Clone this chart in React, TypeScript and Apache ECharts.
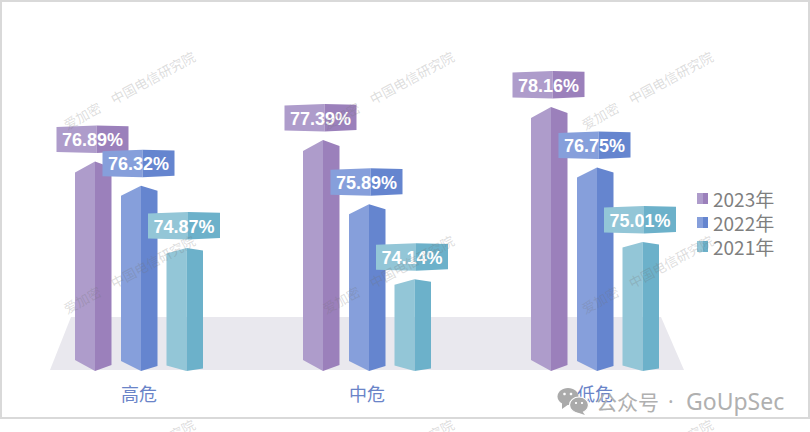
import React, { useEffect, useRef } from "react";
import * as echarts from "echarts";

const categories = ["高危", "中危", "低危"];
const years = ["2023年", "2022年", "2021年"];
const values2023 = [76.89, 77.39, 78.16];
const values2022 = [76.32, 75.89, 76.75];
const values2021 = [74.87, 74.14, 75.01];

const seriesValues = [values2023, values2022, values2021];
const lightColors = ["#ae9ccb", "#869fdb", "#93c6d7"];
const darkColors = ["#9b80bb", "#6585cf", "#6cb1ca"];
const barOffsets = [-44, 2, 47.5];
const leftRise = [11, 10, 5.5];
const rightRise = [6, 5, 2.5];

const WM = "爱加密\u3000中国电信研究院";
const wmX = [129, 388, 647];
const wmY = [90, 274, 458];

const makeRender = (s: number) => (params: any, api: any) => {
  const idx = api.value(0);
  const v = api.value(1);
  const top = api.coord([idx, v]);
  const base = api.coord([idx, 72]);
  const mid = top[0] + barOffsets[s];
  const L = mid - 20;
  const R = mid + 16.5;
  const y = top[1];
  const b = base[1];
  const ml = mid + 1.5;
  const bl = ml - 40;
  const br = ml + 32;
  const bt = y - 36;
  const bb = y - 9;
  return {
    type: "group",
    children: [
      { type: "polygon", shape: { points: [[L, y + leftRise[s]], [mid, y], [mid, b], [L, b - leftRise[s]]] }, style: { fill: lightColors[s] } },
      { type: "polygon", shape: { points: [[mid, y], [R, y + rightRise[s]], [R, b - rightRise[s]], [mid, b]] }, style: { fill: darkColors[s] } },
      { type: "polygon", shape: { points: [[bl, bt + 1.5], [ml, bt], [ml, bb + 0.5], [bl, bb - 0.5]] }, style: { fill: lightColors[s] } },
      { type: "polygon", shape: { points: [[ml, bt], [br, bt + 0.7], [br, bb - 1], [ml, bb + 0.5]] }, style: { fill: darkColors[s] } },
      {
        type: "text",
        style: {
          x: (bl + br) / 2,
          y: (bt + bb) / 2 + 1,
          text: v.toFixed(2) + "%",
          fill: "#ffffff",
          font: "bold 18px 'Liberation Sans', Arial, sans-serif",
          align: "center",
          verticalAlign: "middle",
        },
      },
    ],
  };
};

export default function App() {
  const ref = useRef<HTMLDivElement>(null);
  useEffect(() => {
    document.body.style.margin = "0";
    const chart = echarts.init(ref.current!, undefined, { renderer: "svg" });
    const watermarks: any[] = [];
    wmY.forEach((y) =>
      wmX.forEach((x) =>
        watermarks.push({
          type: "text",
          x,
          y,
          rotation: 0.497,
          z: 50,
          silent: true,
          style: {
            text: WM,
            fill: "rgba(115,115,115,0.25)",
            font: "13.4px 'Noto Sans CJK SC', sans-serif",
            align: "center",
            verticalAlign: "middle",
          },
        })
      )
    );
    const gray = "#aaaaaa";
    chart.setOption({
      animation: false,
      backgroundColor: "#ffffff",
      legend: {
        orient: "vertical",
        left: 692,
        top: 184,
        itemWidth: 11,
        itemHeight: 11,
        itemGap: 5,
        icon: "rect",
        selectedMode: false,
        data: years,
        textStyle: { color: "#7f7f7f", fontSize: 19, lineHeight: 19, fontFamily: "'Noto Sans CJK SC', sans-serif" },
      },
      grid: { left: 25, width: 684, top: 71, height: 300 },
      xAxis: {
        type: "category",
        data: categories,
        axisLine: { show: false },
        axisTick: { show: false },
        axisLabel: { color: "#6a84c8", fontSize: 18, margin: 13, fontFamily: "'Noto Sans CJK SC', sans-serif" },
      },
      yAxis: { type: "value", min: 72, max: 79, show: false },
      series: seriesValues.map((vals, s) => ({
        type: "custom",
        name: years[s],
        z: 2,
        clip: false,
        encode: { x: 0, y: 1 },
        itemStyle: {
          color: new echarts.graphic.LinearGradient(0, 0, 1, 0, [
            { offset: 0, color: lightColors[s] },
            { offset: 0.55, color: lightColors[s] },
            { offset: 0.55, color: darkColors[s] },
            { offset: 1, color: darkColors[s] },
          ]),
        },
        data: vals.map((v, i) => [i, v]),
        renderItem: makeRender(s),
      })),
      graphic: [
        { type: "rect", z: 0, silent: true, shape: { x: 1, y: 1, width: 808, height: 417 }, style: { fill: "none", stroke: "#d9d9d9", lineWidth: 2 } },
        { type: "polygon", z: 0, silent: true, shape: { points: [[50, 370], [71, 317], [661, 317], [684, 370]] }, style: { fill: "#e9e8ee" } },
        ...watermarks,
        { type: "ellipse", z: 60, silent: true, shape: { cx: 568, cy: 396.5, rx: 10.5, ry: 8.5 }, style: { fill: gray } },
        { type: "polygon", z: 60, silent: true, shape: { points: [[562, 402], [562, 409], [569, 404]] }, style: { fill: gray } },
        { type: "circle", z: 60, silent: true, shape: { cx: 564.5, cy: 394, r: 1.3 }, style: { fill: "#ffffff" } },
        { type: "circle", z: 60, silent: true, shape: { cx: 571, cy: 394, r: 1.3 }, style: { fill: "#ffffff" } },
        { type: "ellipse", z: 61, silent: true, shape: { cx: 579, cy: 405, rx: 9.5, ry: 8 }, style: { fill: gray, stroke: "#ffffff", lineWidth: 1.2 } },
        { type: "polygon", z: 61, silent: true, shape: { points: [[582, 411], [585, 415], [576, 412]] }, style: { fill: gray } },
        { type: "circle", z: 62, silent: true, shape: { cx: 576, cy: 403, r: 1.1 }, style: { fill: "#ffffff" } },
        { type: "circle", z: 62, silent: true, shape: { cx: 582, cy: 403, r: 1.1 }, style: { fill: "#ffffff" } },
        { type: "text", z: 62, silent: true, x: 596, y: 401, style: { text: "公众号", fill: "#b0b0b0", font: "21px 'Noto Sans CJK SC', sans-serif", verticalAlign: "middle" } },
        { type: "text", z: 62, silent: true, x: 668, y: 401, style: { text: "·", fill: "#b0b0b0", font: "21px 'Noto Sans', sans-serif", verticalAlign: "middle" } },
        { type: "text", z: 62, silent: true, x: 686, y: 401, style: { text: "GoUpSec", fill: "#b0b0b0", font: "23px 'Noto Sans', sans-serif", verticalAlign: "middle" } },
      ],
    });
    return () => chart.dispose();
  }, []);
  return <div ref={ref} style={{ width: 810, height: 432 }} />;
}
